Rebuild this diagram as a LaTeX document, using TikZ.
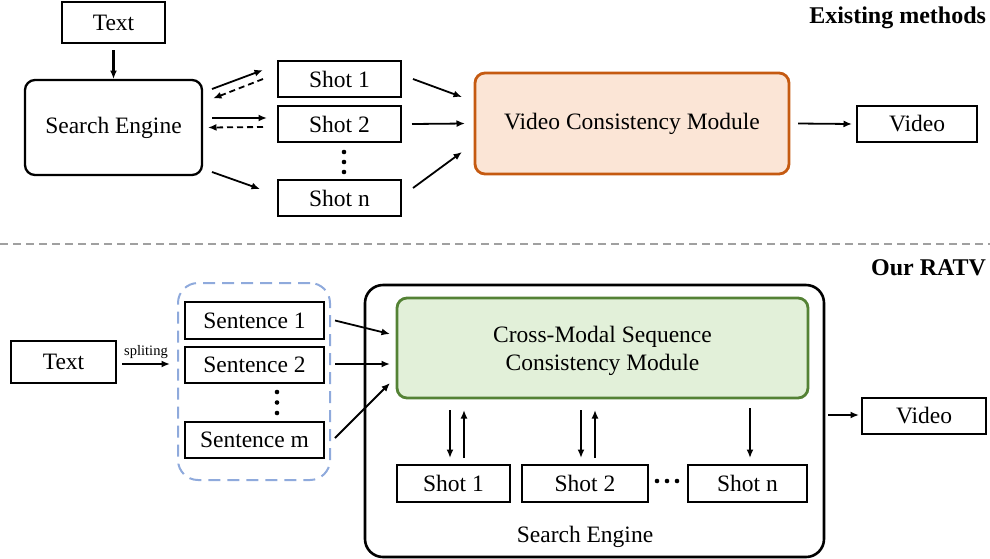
\documentclass[tikz,border=0pt]{standalone}
\usepackage{fontspec}
\setmainfont{Liberation Serif}
\usetikzlibrary{arrows.meta,calc}
\definecolor{orfill}{HTML}{FBE5D6}
\definecolor{ordraw}{HTML}{C55A11}
\definecolor{grfill}{HTML}{E2F0D9}
\definecolor{grdraw}{HTML}{548235}
\definecolor{bldash}{HTML}{8FAADC}
\definecolor{sepgray}{HTML}{A0A0A0}
\begin{document}
\begin{tikzpicture}[x=1pt,y=-1pt,
  every node/.style={font=\fontsize{23.5}{28}\selectfont, inner sep=0pt, outer sep=0pt},
  box/.style={draw, line width=2.3pt, rectangle},
  rbox/.style={draw, line width=2.3pt, rectangle, rounded corners=10pt},
  arr/.style={line width=1.8pt, -{Latex[length=8.5pt,width=7pt]}},
  darr/.style={arr, dash pattern=on 6pt off 4pt},
  title/.style={font=\fontsize{24}{28}\selectfont\bfseries, anchor=east}]
\useasboundingbox (0,0) rectangle (990,558);

% ---------- top: existing methods ----------
\node[title] (tex) at (986,18) {Existing methods};
\node[box, minimum width=103pt, minimum height=41pt] (t1) at (113.5,22.5) {Text};
\node[rbox, minimum width=177pt, minimum height=95pt] (se) at (113.5,127.5) {Search Engine};
\node[box, minimum width=123pt, minimum height=36pt] (s1) at (339.5,79) {Shot 1};
\node[box, minimum width=123pt, minimum height=36pt] (s2) at (339.5,124) {Shot 2};
\node[box, minimum width=123pt, minimum height=36pt] (sn) at (339.5,198) {Shot n};
\fill (344,152) circle (2.3pt) (344,162) circle (2.3pt) (344,172) circle (2.3pt);
\node[rbox, draw=ordraw, fill=orfill, line width=2.8pt, minimum width=314pt, minimum height=101pt] (vcm) at (632,123.5) {Video Consistency Module};
\node[box, minimum width=120pt, minimum height=36pt] (v1) at (917,124) {Video};

\draw[arr, line width=2.4pt] ($(t1.south)+(0,7)$) -- ($(se.north)+(0,-1)$);
\draw[arr] ($(se.north east)+(10,9)$) -- ($(s1.west)+(-15,-9)$);
\draw[darr] ($(s1.west)+(-15,0)$) -- ($(se.east)+(11,-29)$);
\draw[arr] ($(se.east)+(10,-9.5)$) -- ($(s2.west)+(-11,-6)$);
\draw[darr] ($(s2.west)+(-15,3)$) -- ($(se.east)+(6,0)$);
\draw[arr] ($(se.south east)+(10,-3)$) -- ($(sn.west)+(-18,-9)$);
\draw[arr] ($(s1.east)+(12,0)$) -- ($(vcm.west)+(-13,-26.5)$);
\draw[arr] ($(s2.east)+(11,0)$) -- ($(vcm.west)+(-10,0)$);
\draw[arr] ($(sn.east)+(12,-10)$) -- ($(vcm.west)+(-13,28.5)$);
\draw[arr] ($(vcm.east)+(9,0)$) -- ($(v1.west)+(-5,0)$);

% ---------- separator ----------
\coordinate (sepL) at (0,244);
\coordinate (sepR) at (990,244);
\draw[sepgray, line width=1.5pt, dash pattern=on 8pt off 5pt] (sepL) -- (sepR);

% ---------- bottom: our RATV ----------
\node[title] (ratv) at (986,268) {Our RATV};
\node[box, minimum width=105pt, minimum height=42pt] (t2) at (63.5,362) {Text};
\node[draw=bldash, line width=2pt, dash pattern=on 12pt off 7pt, rounded corners=20pt,
      minimum width=152pt, minimum height=197pt] (blue) at (254,381.5) {};
\node[box, minimum width=139pt, minimum height=37pt] (st1) at (254.5,320.5) {Sentence 1};
\node[box, minimum width=139pt, minimum height=36pt] (st2) at (254.5,365) {Sentence 2};
\node[box, minimum width=139pt, minimum height=36pt] (stm) at (254.5,440) {Sentence m};
\fill (277,392) circle (2.3pt) (277,402.5) circle (2.3pt) (277,413) circle (2.3pt);

\draw[arr] ($(t2.east)+(6,2)$) -- ($(blue.west |- t2.east)+(-8,2)$)
  node[midway, above=5pt, font=\fontsize{14.5}{17}\selectfont] (spl) {spliting};

\node[draw, line width=2.6pt, rounded corners=18pt, minimum width=459pt, minimum height=272pt] (outer) at (594.5,421) {};
\node (selab) at (585,537) {Search Engine};
\node[rbox, draw=grdraw, fill=grfill, line width=2.8pt, minimum width=411pt, minimum height=100pt] (cm) at (602.5,348) {};
\node[align=center] (cmtext) at (602.5,351) {Cross-Modal Sequence\\Consistency Module};
\node[box, minimum width=113pt, minimum height=37pt] (b1) at (453.5,483.5) {Shot 1};
\node[box, minimum width=126pt, minimum height=37pt] (b2) at (585,483.5) {Shot 2};
\node[box, minimum width=119pt, minimum height=37pt] (bn) at (747.5,483.5) {Shot n};
\fill (657,481) circle (2.3pt) (667,481) circle (2.3pt) (677,481) circle (2.3pt);
\node[box, minimum width=124pt, minimum height=36pt] (v2) at (924,416) {Video};

\draw[arr] ($(st1.east)+(11,0)$) -- ($(cm.west)+(-7,-14)$);
\draw[arr] ($(st2.east)+(11,-1)$) -- ($(cm.west)+(-7,16)$);
\draw[arr] ($(stm.east)+(11,-2)$) -- ($(cm.west)+(-7,35)$);

\draw[arr] ($(cm.south -| b1.north)+(-3.5,12)$) -- ($(b1.north)+(-3.5,-7)$);
\draw[arr] ($(b1.north)+(10.5,-7)$) -- ($(cm.south -| b1.north)+(10.5,12)$);
\draw[arr] ($(cm.south -| b2.north)+(-4,12)$) -- ($(b2.north)+(-4,-7)$);
\draw[arr] ($(b2.north)+(10,-7)$) -- ($(cm.south -| b2.north)+(10,12)$);
\draw[arr] ($(cm.south -| bn.north)+(2.5,10)$) -- ($(bn.north)+(2.5,-7)$);

\draw[arr] ($(outer.east)+(4,-6)$) -- ($(v2.west)+(-3,-1)$);
\end{tikzpicture}
\end{document}
